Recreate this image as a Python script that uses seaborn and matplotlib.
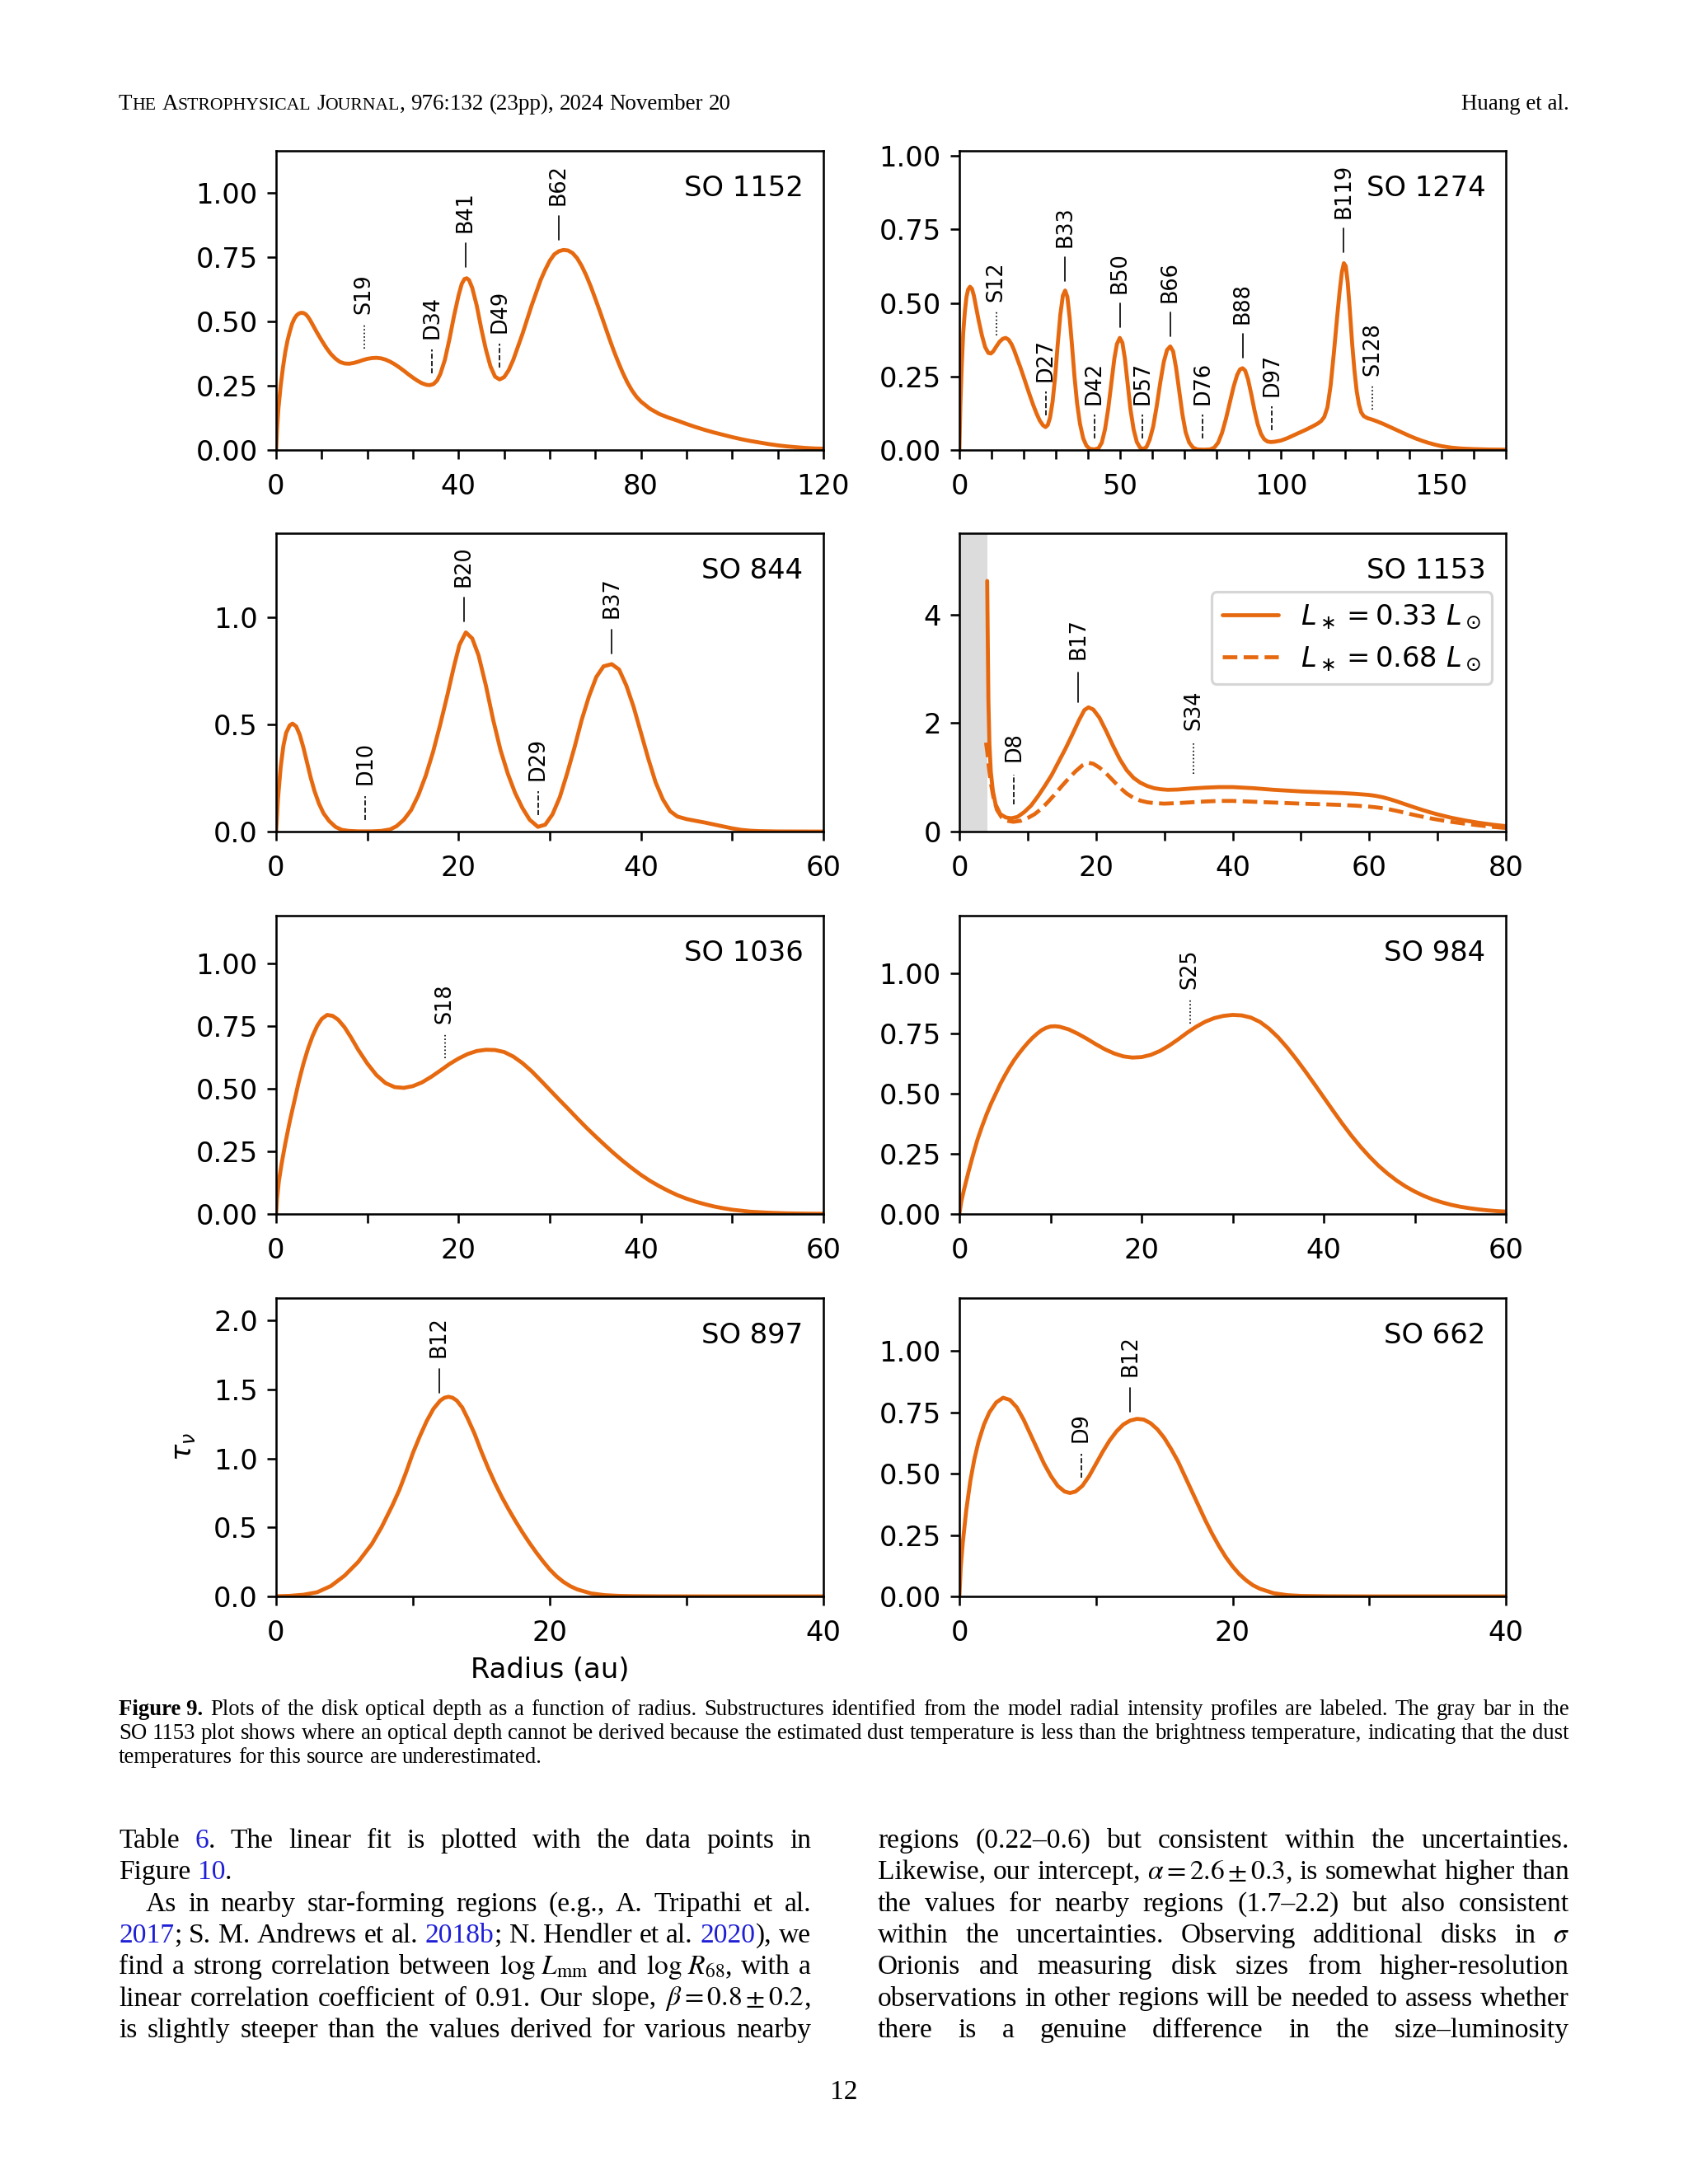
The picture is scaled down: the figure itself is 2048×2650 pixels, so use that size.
import re
import matplotlib
matplotlib.use("Agg")
import matplotlib.pyplot as plt
import matplotlib.transforms as mtransforms
from matplotlib.ticker import MultipleLocator
import seaborn as sns

W, H = 2048, 2650
ORANGE = "#e6690f"
LINK = "#1f1fd6"
SERIF = "Liberation Serif"

# optical depth profiles (radius in au, tau_nu)
r_1152 = [0, 0.2, 0.5, 1, 1.5, 2, 2.5, 3, 3.5, 4, 4.5, 5, 5.5, 6, 6.5, 7, 7.5, 8, 9, 10,
          11, 12, 13, 14, 15, 16, 17, 18, 19, 20, 21, 22, 23, 24, 25, 26, 27, 28, 29, 30,
          31, 32, 33, 33.7, 34.5, 35.3, 36, 37, 38, 39, 40, 40.7, 41.3, 41.8, 42.3, 43, 44, 45, 46, 47,
          48, 49, 50, 51, 52, 53, 54, 55, 56, 57, 58, 59, 60, 61, 62, 63, 64, 65, 66, 67,
          68, 69, 70, 71, 72, 73, 74, 75, 76, 77, 78, 79, 80, 82, 84, 86, 88, 90, 92, 94,
          96, 98, 100, 102, 104, 106, 108, 110, 112, 114, 116, 118, 120]
tau_1152 = [0, 0.08, 0.16, 0.25, 0.32, 0.38, 0.425, 0.46, 0.49, 0.51, 0.523, 0.53, 0.533, 0.532, 0.527, 0.517, 0.503, 0.487, 0.455, 0.425,
            0.397, 0.373, 0.355, 0.342, 0.336, 0.335, 0.338, 0.343, 0.349, 0.354, 0.357, 0.358, 0.356, 0.351, 0.343, 0.333, 0.321, 0.308, 0.294, 0.281,
            0.269, 0.259, 0.253, 0.252, 0.256, 0.27, 0.295, 0.35, 0.43, 0.52, 0.6, 0.645, 0.664, 0.667, 0.66, 0.63, 0.56, 0.47, 0.39, 0.325,
            0.285, 0.274, 0.283, 0.31, 0.35, 0.4, 0.45, 0.505, 0.56, 0.61, 0.66, 0.7, 0.735, 0.76, 0.772, 0.777, 0.775, 0.765, 0.745, 0.715,
            0.678, 0.635, 0.587, 0.538, 0.487, 0.436, 0.387, 0.342, 0.3, 0.263, 0.232, 0.207, 0.188, 0.16, 0.14, 0.126, 0.114, 0.101, 0.089, 0.078,
            0.068, 0.059, 0.05, 0.042, 0.035, 0.029, 0.023, 0.018, 0.014, 0.011, 0.008, 0.006, 0.005]

r_1274 = [0, 0.3, 0.7, 1.2, 1.7, 2.2, 2.7, 3.3, 3.9, 4.5, 5.2, 6, 7, 8, 9, 9.8, 10.5, 11.5, 12.5, 13.5,
          14.4, 15.3, 16.2, 17, 18, 19, 20, 21, 22, 23, 24, 25, 26, 26.8, 27.5, 28.2, 29, 29.8, 30.6, 31.4,
          32.2, 32.9, 33.6, 34.3, 35, 35.8, 36.6, 37.5, 38.5, 39.5, 40.5, 42, 43.3, 44.3, 45.3, 46.3, 47.3, 48.2, 49, 49.9,
          50.7, 51.5, 52.3, 53.2, 54.2, 55.2, 56.2, 57.2, 58.2, 59.2, 60.3, 61.4, 62.5, 63.6, 64.6, 65.6, 66.5, 67.4, 68.4, 69.4,
          70.4, 71.5, 72.7, 74, 76, 78, 79.3, 80.5, 81.7, 82.9, 84.1, 85.3, 86.4, 87.3, 88.1, 88.9, 89.8, 90.8, 91.8, 92.8,
          93.8, 94.8, 95.8, 96.8, 98, 100, 102, 104, 106, 108, 110, 111.5, 112.5, 113.5, 114.5, 115.5, 116.5, 117.5, 118.3, 119,
          119.6, 120.2, 120.8, 121.5, 122.2, 122.9, 123.6, 124.3, 125, 125.8, 127, 128.5, 130, 132, 134, 136, 138, 140, 142, 144,
          146, 148, 150, 153, 156, 160, 165, 170]
tau_1274 = [0, 0.15, 0.28, 0.4, 0.47, 0.52, 0.545, 0.555, 0.548, 0.525, 0.485, 0.44, 0.39, 0.35, 0.33, 0.328, 0.335, 0.352, 0.368, 0.378,
            0.381, 0.375, 0.36, 0.34, 0.31, 0.28, 0.248, 0.215, 0.183, 0.152, 0.124, 0.1, 0.084, 0.078, 0.085, 0.11, 0.165, 0.25, 0.36, 0.46,
            0.525, 0.542, 0.52, 0.45, 0.36, 0.25, 0.16, 0.09, 0.04, 0.015, 0.004, 0.002, 0.006, 0.025, 0.07, 0.14, 0.23, 0.31, 0.36, 0.381,
            0.365, 0.31, 0.23, 0.14, 0.07, 0.027, 0.008, 0.003, 0.01, 0.035, 0.08, 0.15, 0.23, 0.3, 0.34, 0.352, 0.335, 0.28, 0.2, 0.12,
            0.06, 0.025, 0.008, 0.002, 0.001, 0.002, 0.008, 0.025, 0.058, 0.105, 0.16, 0.215, 0.255, 0.274, 0.278, 0.27, 0.24, 0.19, 0.135, 0.088,
            0.055, 0.037, 0.029, 0.027, 0.028, 0.032, 0.04, 0.05, 0.06, 0.07, 0.081, 0.09, 0.098, 0.112, 0.145, 0.22, 0.33, 0.45, 0.54, 0.605,
            0.635, 0.625, 0.57, 0.47, 0.36, 0.27, 0.2, 0.155, 0.128, 0.115, 0.108, 0.103, 0.097, 0.088, 0.078, 0.068, 0.058, 0.048, 0.039, 0.031,
            0.024, 0.018, 0.013, 0.008, 0.005, 0.003, 0.0015, 0.001]

r_844 = [0, 0.2, 0.5, 0.8, 1.1, 1.5, 1.8, 2.2, 2.6, 3, 3.4, 3.8, 4.2, 4.7, 5.2, 5.8, 6.5, 7.2, 8, 9,
         10.5, 11.5, 12.5, 13.2, 14, 14.8, 15.6, 16.4, 17.2, 18, 18.8, 19.5, 20.1, 20.8, 21.5, 22.2, 23, 23.8, 24.6, 25.4,
         26.2, 27, 27.8, 28.7, 29.5, 30.3, 31.1, 31.9, 32.7, 33.5, 34.3, 35.1, 35.9, 36.8, 37.6, 38.4, 39.2, 40, 40.8, 41.6,
         42.4, 43.2, 44, 45, 46, 47, 48, 49, 50, 51, 52, 53, 55, 60]
tau_844 = [0, 0.15, 0.3, 0.4, 0.46, 0.495, 0.503, 0.49, 0.45, 0.39, 0.32, 0.25, 0.19, 0.13, 0.085, 0.05, 0.022, 0.008, 0.003, 0.001,
           0.001, 0.003, 0.01, 0.025, 0.055, 0.1, 0.17, 0.26, 0.37, 0.5, 0.64, 0.77, 0.87, 0.928, 0.9, 0.82, 0.68, 0.52, 0.38, 0.27,
           0.18, 0.11, 0.055, 0.022, 0.032, 0.08, 0.16, 0.27, 0.39, 0.52, 0.63, 0.72, 0.77, 0.78, 0.755, 0.68, 0.58, 0.46, 0.34, 0.23,
           0.15, 0.095, 0.07, 0.058, 0.05, 0.042, 0.033, 0.024, 0.015, 0.008, 0.004, 0.002, 0.0005, 0]

# SO 1153, two assumed stellar luminosities
r_1153_a = [4.07, 4.15, 4.25, 4.4, 4.6, 4.9, 5.3, 6.0, 6.8, 7.6, 8.5, 9.5, 10.5, 11.5, 12.5, 13.5, 14.5, 15.5, 16.5, 17.5,
            18.3, 18.9, 19.6, 20.5, 21.5, 22.5, 23.5, 24.5, 25.5, 26.5, 27.5, 28.5, 29.5, 30.5, 32, 34, 36, 38, 40, 43,
            46, 50, 54, 56, 58, 60, 61, 62, 63, 64, 65, 66, 67, 68, 69, 70, 72, 74, 76, 78, 80]
tau_1153_a = [4.62, 3.6, 2.4, 1.6, 1.1, 0.75, 0.5, 0.32, 0.26, 0.245, 0.27, 0.36, 0.48, 0.65, 0.84, 1.04, 1.28, 1.52, 1.78, 2.05,
              2.24, 2.29, 2.25, 2.1, 1.85, 1.58, 1.33, 1.13, 0.99, 0.9, 0.84, 0.8, 0.78, 0.77, 0.775, 0.795, 0.81, 0.82, 0.82, 0.8,
              0.77, 0.74, 0.72, 0.71, 0.695, 0.675, 0.657, 0.632, 0.598, 0.558, 0.515, 0.472, 0.43, 0.39, 0.352, 0.317, 0.255, 0.205, 0.163, 0.128,
              0.10]
r_1153_b = [3.9, 4.1, 4.3, 4.6, 5.0, 5.5, 6.2, 7.0, 7.9, 9, 10, 11, 12, 13, 14, 15, 16, 17, 18,
            18.8, 19.6, 20.5, 21.5, 22.5, 23.5, 24.5, 25.5, 26.5, 27.5, 28.5, 30, 32, 34, 36, 38, 40, 43, 46, 50,
            54, 56, 58, 60, 61, 62, 63, 64, 65, 66, 67, 68, 69, 70, 72, 74, 76, 78, 80]
tau_1153_b = [1.64, 1.45, 1.2, 0.9, 0.62, 0.4, 0.26, 0.2, 0.18, 0.2, 0.25, 0.32, 0.42, 0.55, 0.69, 0.84, 0.98, 1.11, 1.22,
              1.27, 1.25, 1.18, 1.07, 0.94, 0.81, 0.7, 0.62, 0.57, 0.54, 0.525, 0.515, 0.525, 0.54, 0.555, 0.565, 0.565, 0.55, 0.535, 0.515,
              0.5, 0.49, 0.478, 0.46, 0.447, 0.43, 0.408, 0.382, 0.353, 0.323, 0.295, 0.268, 0.243, 0.22, 0.18, 0.145, 0.115, 0.088, 0.066]
gray_1153 = 4.1
lum_labels = [r"$L_\ast = 0.33\ L_\odot$", r"$L_\ast = 0.68\ L_\odot$"]

r_1036 = [0, 0.1, 0.3, 0.6, 1, 1.5, 2, 2.5, 3, 3.5, 4, 4.5, 5, 5.6, 6.2, 6.8, 7.5, 8.2, 9, 10,
          11, 12, 13, 14, 15, 16, 17, 18, 19, 20, 21, 22, 23, 24, 25, 26, 27, 28, 29, 30,
          31, 32, 33, 34, 35, 36, 37, 38, 39, 40, 41, 42, 43, 44, 45, 46, 47, 48, 49, 50,
          52, 54, 56, 58, 60]
tau_1036 = [0, 0.06, 0.13, 0.2, 0.28, 0.37, 0.45, 0.53, 0.6, 0.66, 0.71, 0.75, 0.778, 0.794, 0.79, 0.775, 0.745, 0.705, 0.655, 0.6,
            0.554, 0.522, 0.506, 0.503, 0.51, 0.525, 0.547, 0.572, 0.598, 0.62, 0.638, 0.65, 0.655, 0.654, 0.646, 0.628, 0.602, 0.57, 0.533, 0.495,
            0.457, 0.42, 0.382, 0.345, 0.31, 0.276, 0.243, 0.212, 0.183, 0.156, 0.132, 0.111, 0.092, 0.075, 0.061, 0.049, 0.039, 0.03, 0.023, 0.017,
            0.009, 0.005, 0.0025, 0.0012, 0.0006]

r_984 = [0, 0.2, 0.5, 1, 1.5, 2, 2.5, 3, 3.5, 4, 4.5, 5, 5.5, 6, 6.5, 7, 7.5, 8, 8.5, 9, 9.5, 10, 10.5, 11,
         12, 13, 14, 15, 16, 17, 18, 19, 20, 21, 22, 23, 24, 25, 26, 27, 28, 29, 30, 31,
         32, 33, 34, 35, 36, 37, 38, 39, 40, 41, 42, 43, 44, 45, 46, 47, 48, 49, 50, 51,
         52, 53, 54, 55, 56, 57, 58, 59, 60]
tau_984 = [0, 0.05, 0.1, 0.175, 0.245, 0.31, 0.365, 0.415, 0.46, 0.5, 0.54, 0.575, 0.608, 0.638, 0.664, 0.688, 0.71, 0.73, 0.747, 0.762, 0.772, 0.778, 0.779, 0.777,
           0.766, 0.748, 0.727, 0.704, 0.683, 0.666, 0.654, 0.649, 0.651, 0.66, 0.676, 0.698, 0.724, 0.752, 0.777, 0.798, 0.813, 0.822, 0.826, 0.824,
           0.815, 0.797, 0.769, 0.733, 0.69, 0.642, 0.591, 0.538, 0.484, 0.43, 0.377, 0.327, 0.281, 0.239, 0.201, 0.168, 0.139, 0.114, 0.093, 0.075,
           0.06, 0.048, 0.038, 0.03, 0.024, 0.019, 0.015, 0.012, 0.01]

r_897 = [0, 1, 2, 3, 4, 5, 6, 7, 7.7, 8.5, 9, 9.5, 10, 10.5, 11, 11.5, 12, 12.3, 12.6, 12.9,
         13.2, 13.6, 14, 14.5, 15, 15.5, 16, 16.5, 17, 17.5, 18, 18.5, 19, 19.5, 20, 20.5, 21, 21.5, 22, 23,
         24, 25, 26, 28, 32, 40]
tau_897 = [0.001, 0.004, 0.012, 0.03, 0.075, 0.15, 0.25, 0.38, 0.5, 0.66, 0.77, 0.9, 1.04, 1.16, 1.27, 1.36, 1.42, 1.44, 1.447, 1.44,
           1.42, 1.37, 1.29, 1.18, 1.05, 0.93, 0.82, 0.72, 0.63, 0.545, 0.465, 0.39, 0.32, 0.255, 0.195, 0.145, 0.105, 0.074, 0.051, 0.022,
           0.009, 0.004, 0.002, 0.0005, 0, 0]

r_662 = [0, 0.1, 0.25, 0.5, 0.8, 1.1, 1.4, 1.8, 2.2, 2.7, 3.2, 3.7, 4.2, 4.7, 5.2, 5.7, 6.2, 6.7, 7.2, 7.7,
         8.1, 8.5, 9, 9.5, 10, 10.5, 11, 11.5, 12, 12.5, 13, 13.5, 14, 14.5, 15, 15.5, 16, 16.5, 17, 17.5,
         18, 18.5, 19, 19.5, 20, 20.5, 21, 21.5, 22, 23, 24, 25, 27, 30, 40]
tau_662 = [0, 0.12, 0.22, 0.35, 0.47, 0.56, 0.63, 0.7, 0.75, 0.79, 0.809, 0.8, 0.77, 0.72, 0.66, 0.6, 0.54, 0.49, 0.45, 0.427,
           0.421, 0.427, 0.45, 0.49, 0.54, 0.59, 0.635, 0.672, 0.7, 0.716, 0.723, 0.72, 0.705, 0.68, 0.645, 0.6, 0.55, 0.49, 0.43, 0.37,
           0.31, 0.255, 0.205, 0.16, 0.122, 0.09, 0.065, 0.045, 0.031, 0.013, 0.005, 0.002, 0.0005, 0, 0]

# labelled substructures: name, radius, tau where the marker starts
feat_1152 = ["S19", "D34", "B41", "D49", "B62"]
feat_r_1152 = [19.3, 34.2, 41.5, 49.0, 61.9]
feat_y_1152 = [0.393, 0.297, 0.71, 0.32, 0.815]
feat_1274 = ["S12", "D27", "B33", "D42", "B50", "D57", "B66", "D76", "B88", "D97", "B119", "S128"]
feat_r_1274 = [11.5, 26.9, 32.9, 42.0, 49.9, 57.0, 65.6, 75.7, 88.1, 97.3, 119.6, 128.5]
feat_y_1274 = [0.39, 0.118, 0.575, 0.04, 0.417, 0.04, 0.386, 0.04, 0.314, 0.068, 0.673, 0.138]
feat_844 = ["D10", "B20", "D29", "B37"]
feat_r_844 = [9.8, 20.6, 28.7, 36.8]
feat_y_844 = [0.055, 0.978, 0.077, 0.83]
feat_1153 = ["D8", "B17", "S34"]
feat_r_1153 = [8.0, 17.4, 34.3]
feat_y_1153 = [0.50, 2.38, 1.07]
feat_1036 = ["S18"]
feat_r_1036 = [18.5]
feat_y_1036 = [0.622]
feat_984 = ["S25"]
feat_r_984 = [25.3]
feat_y_984 = [0.79]
feat_897 = ["B12"]
feat_r_897 = [11.9]
feat_y_897 = [1.477]
feat_662 = ["D9", "B12"]
feat_r_662 = [8.9, 12.5]
feat_y_662 = [0.483, 0.753]

# page text
header_left = "T<HE> A<STROPHYSICAL> J<OURNAL>, 976:132 (23pp), 2024 November 20"
header_right = "Huang et al."
caption = [
    "[Figure~9.] Plots of the disk optical depth as a function of radius. Substructures identified from the model radial intensity profiles are labeled. The gray bar in the",
    "SO 1153 plot shows where an optical depth cannot be derived because the estimated dust temperature is less than the brightness temperature, indicating that the dust",
    "temperatures for this source are underestimated.",
]
col_left = [
    "Table {6}. The linear fit is plotted with the data points in",
    "Figure {10}.",
    "As in nearby star-forming regions (e.g., A. Tripathi et al.",
    "{2017}; S. M. Andrews et al. {2018b}; N. Hendler et al. {2020}), we",
    r"find a strong correlation between $\log\,L_{\mathrm{mm}}$ and $\log\,R_{68}$, with a",
    r"linear correlation coefficient of 0.91. Our slope, $\beta=0.8\pm0.2$,",
    "is slightly steeper than the values derived for various nearby",
]
col_right = [
    "regions (0.22–0.6) but consistent within the uncertainties.",
    r"Likewise, our intercept, $\alpha=2.6\pm0.3$, is somewhat higher than",
    "the values for nearby regions (1.7–2.2) but also consistent",
    r"within the uncertainties. Observing additional disks in $\sigma$",
    "Orionis and measuring disk sizes from higher-resolution",
    "observations in other regions will be needed to assess whether",
    "there is a genuine difference in the size–luminosity",
]
page_number = "12"

# ---------------------------------------------------------------
sns.set_style("ticks")
FS = 24.3
plt.rcParams.update({
    "font.family": ["DejaVu Sans"],
    "font.size": FS,
    "axes.edgecolor": "black",
    "axes.linewidth": 1.85,
    "axes.labelcolor": "black",
    "text.color": "black",
    "xtick.color": "black", "ytick.color": "black",
    "xtick.major.size": 8, "ytick.major.size": 8, "xtick.minor.size": 8,
    "xtick.major.width": 1.85, "ytick.major.width": 1.85, "xtick.minor.width": 1.85,
    "xtick.major.pad": 12.5, "ytick.major.pad": 8,
    "xtick.labelsize": FS, "ytick.labelsize": FS,
    "legend.fontsize": FS,
    "patch.linewidth": 2.3,
})

LW = 3.45
ANN_LW = 1.2
ANN_FS = 18.4
LS = {"B": "-", "D": "--", "S": ":"}

ROW_TOP = [183, 647, 1111, 1575]
ROW_BOT = [546, 1009, 1473, 1937]
COL_L = [335, 1164]
COL_R = [999, 1827]


def rect(col, row):
    return [COL_L[col] / W, 1 - ROW_BOT[row] / H,
            (COL_R[col] - COL_L[col]) / W, (ROW_BOT[row] - ROW_TOP[row]) / H]


panels = [
    dict(name="SO 1152", pos=(0, 0), curves=[(r_1152, tau_1152, "-", None)],
         feats=(feat_1152, feat_r_1152, feat_y_1152), xmax=120, xmaj=40, ytop=1.162, ystep=0.25, seg=0.08, gap=0.036),
    dict(name="SO 1274", pos=(1, 0), curves=[(r_1274, tau_1274, "-", None)],
         feats=(feat_1274, feat_r_1274, feat_y_1274), xmax=170, xmaj=50, ytop=1.017, ystep=0.25, seg=0.08, gap=0.033),
    dict(name="SO 844", pos=(0, 1), curves=[(r_844, tau_844, "-", None)],
         feats=(feat_844, feat_r_844, feat_y_844), xmax=60, xmaj=20, ytop=1.39, ystep=0.5, seg=0.08, gap=0.037),
    dict(name="SO 1153", pos=(1, 1),
         curves=[(r_1153_a, tau_1153_a, "-", lum_labels[0]), (r_1153_b, tau_1153_b, "--", lum_labels[1])],
         feats=(feat_1153, feat_r_1153, feat_y_1153), xmax=80, xmaj=20, ytop=5.5, ystep=2, seg=0.10, gap=0.045),
    dict(name="SO 1036", pos=(0, 2), curves=[(r_1036, tau_1036, "-", None)],
         feats=(feat_1036, feat_r_1036, feat_y_1036), xmax=60, xmaj=20, ytop=1.19, ystep=0.25, seg=0.08, gap=0.035),
    dict(name="SO 984", pos=(1, 2), curves=[(r_984, tau_984, "-", None)],
         feats=(feat_984, feat_r_984, feat_y_984), xmax=60, xmaj=20, ytop=1.238, ystep=0.25, seg=0.08, gap=0.037),
    dict(name="SO 897", pos=(0, 3), curves=[(r_897, tau_897, "-", None)],
         feats=(feat_897, feat_r_897, feat_y_897), xmax=40, xmaj=20, ytop=2.163, ystep=0.5, seg=0.08, gap=0.037),
    dict(name="SO 662", pos=(1, 3), curves=[(r_662, tau_662, "-", None)],
         feats=(feat_662, feat_r_662, feat_y_662), xmax=40, xmaj=20, ytop=1.215, ystep=0.25, seg=0.08, gap=0.038),
]

fig = plt.figure(figsize=(W / 100, H / 100), dpi=100)
fig.patch.set_facecolor("white")

for p in panels:
    ax = fig.add_axes(rect(*p["pos"]))
    if p["name"] == "SO 1153":
        ax.axvspan(0, gray_1153, color="#dcdcdc", lw=0, zorder=0)
    for r, tau, ls, lab in p["curves"]:
        sns.lineplot(x=r, y=tau, ax=ax, color=ORANGE, linewidth=LW, linestyle=ls,
                     errorbar=None, label=lab, legend=False)
    ytop = p["ytop"]
    for lab, xr, yb in zip(*p["feats"]):
        y1 = yb + p["seg"] * ytop
        ax.plot([xr, xr], [yb, y1], color="black", lw=ANN_LW, ls=LS[lab[0]])
        ax.text(xr, y1 + p["gap"] * ytop, lab, rotation=90, ha="center", va="bottom",
                fontsize=ANN_FS)
    ax.set_xlim(0, p["xmax"])
    ax.set_ylim(0, ytop)
    ax.xaxis.set_major_locator(MultipleLocator(p["xmaj"]))
    ax.xaxis.set_minor_locator(MultipleLocator(10))
    ax.yaxis.set_major_locator(MultipleLocator(p["ystep"]))
    for s in ax.spines.values():
        s.set_visible(True)
    ax.set_xlabel("")
    ax.set_ylabel("")
    ax.text(0.963, 0.848, p["name"], transform=ax.transAxes, ha="right", va="baseline")
    if p["name"] == "SO 1153":
        ax.legend(loc="upper right", bbox_to_anchor=(0.975, 0.803), borderaxespad=0,
                  frameon=True, fancybox=True)
    if p["name"] == "SO 897":
        ax.set_ylabel(r"$\tau_\nu$", labelpad=14)
        ax.set_xlabel("Radius (au)", labelpad=8.5)

# ---------------------------------------------------------------
# page text around the figure
renderer = fig.canvas.get_renderer()
IDENT = mtransforms.IdentityTransform()
SEG = re.compile(r"(\$[^$]*\$|\{[^}]*\}|\[[^\]]*\]|<[^>]*>)")


def make_word(word, size):
    parts = []
    for seg in SEG.split(word):
        if not seg:
            continue
        color, weight, fs = "black", "normal", size
        if seg[0] == "{":
            seg, color = seg[1:-1], LINK
        elif seg[0] == "[":
            seg, weight = seg[1:-1].replace("~", " "), "bold"
        elif seg[0] == "<":
            seg, fs = seg[1:-1], size * 0.8
        t = fig.text(0, 0, seg, transform=IDENT, fontsize=fs, color=color, weight=weight,
                     family=SERIF, math_fontfamily="stix", ha="left", va="baseline")
        parts.append(t)
    return parts


def ink(t):
    return t.get_window_extent(renderer).width


def natural(text, size):
    words = [make_word(w, size) for w in text.split(" ")]
    total = sum(ink(t) for ws in words for t in ws) + (len(words) - 1) * 0.25 * size * 100 / 72
    for ws in words:
        for t in ws:
            t.remove()
    return total


def draw_line(text, x0, y, size, x1=None):
    words = [make_word(w, size) for w in text.split(" ")]
    widths = [sum(ink(t) for t in ws) for ws in words]
    space = 0.25 * size * 100 / 72
    if x1 is not None and len(words) > 1:
        space = (x1 - x0 - sum(widths)) / (len(words) - 1)
    x = x0
    for ws in words:
        for t in ws:
            t.set_position((x, H - y))
            x += ink(t)
        x += space
    return space


# running head
hs = 19.3 * 742 / natural(header_left, 19.3)
draw_line(header_left, 144, 133, hs)
fig.text(1904, H - 133, header_right, transform=IDENT, fontsize=hs, family=SERIF,
         ha="right", va="baseline")

# caption
CAP_FS = 19.3
cap_y = [2081, 2110, 2139]
for i, line in enumerate(caption):
    draw_line(line, 144, cap_y[i], CAP_FS, None if i == len(caption) - 1 else 1904)

# two-column body text
BODY_FS = 24.1
body_y = [2242 + 38.3 * i for i in range(7)]
for i, line in enumerate(col_left):
    x0 = 177 if i == 2 else 144
    draw_line(line, x0, body_y[i], BODY_FS, None if i == 1 else 984)
for i, line in enumerate(col_right):
    draw_line(line, 1065, body_y[i], BODY_FS, 1904)

fig.text(1024, H - 2547, page_number, transform=IDENT, fontsize=BODY_FS, family=SERIF,
         ha="center", va="baseline")

fig.savefig("out.png", dpi=100, facecolor="white")
